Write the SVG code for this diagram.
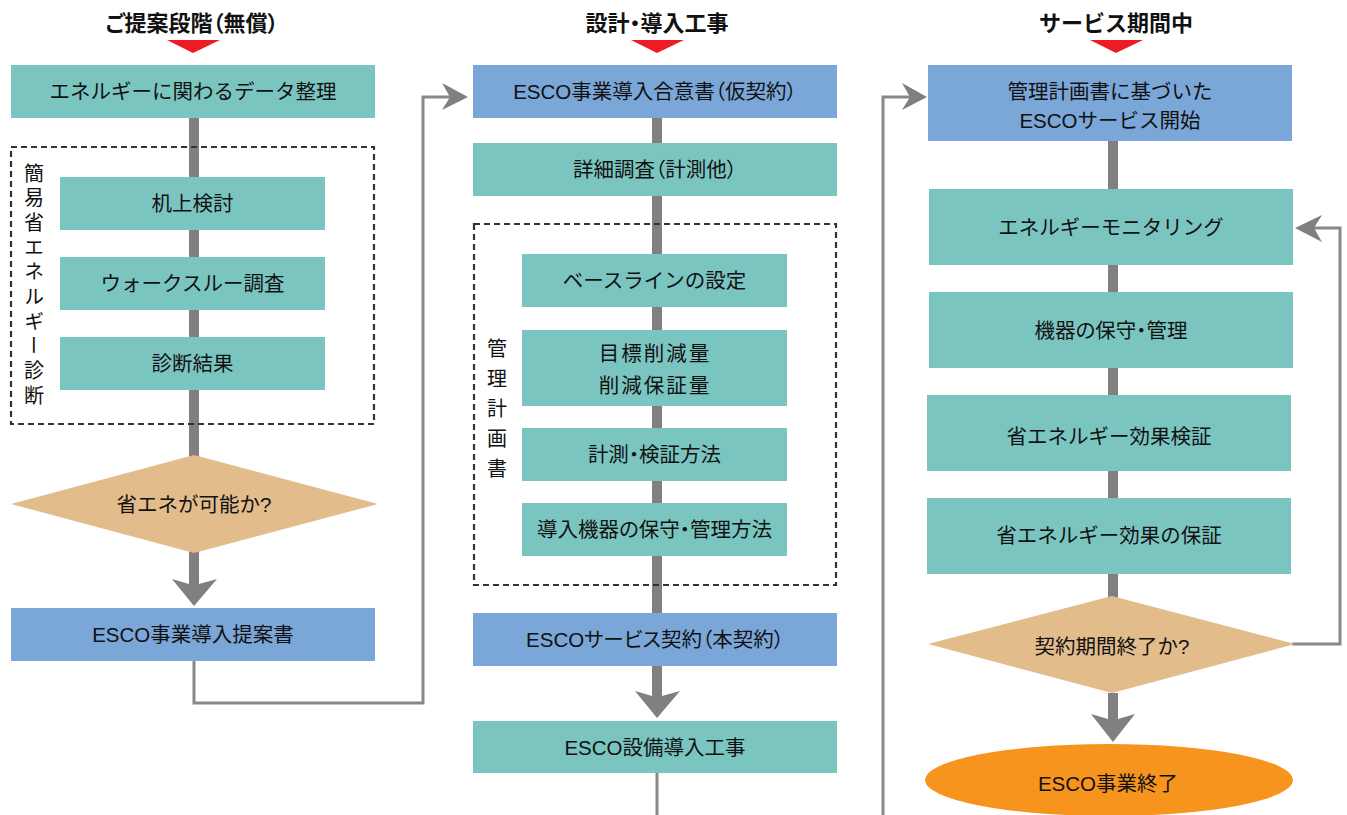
<svg xmlns="http://www.w3.org/2000/svg" width="1347" height="815" viewBox="0 0 1347 815">
<style>
text{font-family:"Liberation Sans","Noto Sans CJK JP",sans-serif;fill:#111;font-size:20.5px;text-anchor:middle;dominant-baseline:central}
.p{font-feature-settings:"palt" 1}
.hdr{font-weight:bold;font-size:22px}
.teal{fill:#7bc5c1}
.blue{fill:#7ba6d8}
.dia{fill:#e3bc8b}
.tri{fill:#ed1c24}
.thick{stroke:#808080;stroke-width:10;fill:none}
.thin{stroke:#888;stroke-width:3;fill:none}
.ah{fill:#808080}
.dash{fill:none;stroke:#333;stroke-width:2.2;stroke-dasharray:6 4}
.vert{writing-mode:vertical-rl;text-anchor:start;dominant-baseline:auto;font-family:"Noto Sans CJK JP",sans-serif;font-size:20px}
</style>
<g id="headers">
<text class="hdr p" x="192" y="23">ご提案段階（無償）</text>
<polygon class="tri" points="167,40 220,40 193,53"/>
<text class="hdr p" x="657" y="23">設計・導入工事</text>
<polygon class="tri" points="631,40 684,40 657,53"/>
<text class="hdr" x="1116" y="23">サービス期間中</text>
<polygon class="tri" points="1090,40 1143,40 1116,53"/>
</g>
<g id="connectors">
<line class="thick" x1="194" y1="118" x2="194" y2="586"/>
<polygon class="ah" points="172,579 189,584 199,584 217,579 194,606"/>
<polyline class="thin" points="194,661 194,703 423,703 423,97 452,97"/>
<polygon class="ah" points="442,83 468,97 442,110 450,97"/>
<line class="thick" x1="657" y1="118" x2="657" y2="613"/>
<line class="thick" x1="657" y1="666" x2="657" y2="698"/>
<polygon class="ah" points="635,691 652,696 662,696 680,691 657,718"/>
<line class="thin" x1="657" y1="773" x2="657" y2="815"/>
<polyline class="thin" points="883,815 883,97 910,97"/>
<polygon class="ah" points="902,83 927,97 902,110 910,97"/>
<line class="thick" x1="1113" y1="141" x2="1113" y2="600"/>
<line class="thick" x1="1113" y1="693" x2="1113" y2="720"/>
<polygon class="ah" points="1091,714 1108,719 1118,719 1135,714 1113,742"/>
<polyline class="thin" points="1292,644 1340,644 1340,228 1312,228"/>
<polygon class="ah" points="1322,215 1295,228 1322,242 1314,228"/>
</g>
<g id="col1-data">
<rect class="teal" x="11" y="65" width="364" height="53"/>
<text x="193" y="91.5">エネルギーに関わるデータ整理</text>
</g>
<g id="col1-group">
<rect class="dash" x="11" y="147" width="363" height="277"/>
<text class="vert" x="34" y="163" style="letter-spacing:4.7px">簡易省エネルギー診断</text>
</g>
<g id="col1-desk">
<rect class="teal" x="60" y="177" width="265" height="53"/>
<text x="192.5" y="203.5">机上検討</text>
</g>
<g id="col1-walk">
<rect class="teal" x="60" y="257" width="265" height="53"/>
<text x="192.5" y="283.5">ウォークスルー調査</text>
</g>
<g id="col1-result">
<rect class="teal" x="60" y="337" width="265" height="53"/>
<text x="192.5" y="363.5">診断結果</text>
</g>
<g id="col1-decision">
<polygon class="dia" points="11,504 194,455 378,504 194,553"/>
<text x="194" y="504">省エネが可能か?</text>
</g>
<g id="col1-proposal">
<rect class="blue" x="11" y="608" width="364" height="53"/>
<text x="193" y="634.5">ESCO事業導入提案書</text>
</g>
<g id="col2-agree">
<rect class="blue" x="473" y="65" width="364" height="53"/>
<text class="p" x="655" y="91.5">ESCO事業導入合意書（仮契約）</text>
</g>
<g id="col2-survey">
<rect class="teal" x="473" y="143" width="364" height="53"/>
<text class="p" x="655" y="169.5">詳細調査（計測他）</text>
</g>
<g id="col2-group">
<rect class="dash" x="474" y="224" width="362" height="361"/>
<text class="vert" x="497" y="338" style="letter-spacing:10px">管理計画書</text>
</g>
<g id="col2-baseline">
<rect class="teal" x="522" y="254" width="265" height="53"/>
<text x="654.5" y="280.5">ベースラインの設定</text>
</g>
<g id="col2-target">
<rect class="teal" x="522" y="330" width="265" height="76"/>
<text x="655" y="353" style="letter-spacing:2px">目標削減量</text>
<text x="655" y="385" style="letter-spacing:2px">削減保証量</text>
</g>
<g id="col2-measure">
<rect class="teal" x="522" y="428" width="265" height="53"/>
<text class="p" x="654.5" y="454.5">計測・検証方法</text>
</g>
<g id="col2-maint">
<rect class="teal" x="522" y="503" width="265" height="53"/>
<text class="p" x="654.5" y="529.5">導入機器の保守・管理方法</text>
</g>
<g id="col2-contract">
<rect class="blue" x="473" y="613" width="364" height="53"/>
<text class="p" x="655" y="639.5">ESCOサービス契約（本契約）</text>
</g>
<g id="col2-work">
<rect class="teal" x="473" y="721" width="364" height="52"/>
<text x="655" y="747">ESCO設備導入工事</text>
</g>
<g id="col3-start">
<rect class="blue" x="928" y="65" width="364" height="76"/>
<text x="1110" y="91">管理計画書に基づいた</text>
<text x="1110" y="120">ESCOサービス開始</text>
</g>
<g id="col3-monitor">
<rect class="teal" x="929" y="189" width="364" height="76"/>
<text x="1111" y="227">エネルギーモニタリング</text>
</g>
<g id="col3-maint">
<rect class="teal" x="929" y="292" width="364" height="76"/>
<text class="p" x="1111" y="330">機器の保守・管理</text>
</g>
<g id="col3-verify">
<rect class="teal" x="927" y="395" width="364" height="76"/>
<text x="1109" y="436">省エネルギー効果検証</text>
</g>
<g id="col3-guarantee">
<rect class="teal" x="927" y="498" width="364" height="76"/>
<text x="1109" y="535">省エネルギー効果の保証</text>
</g>
<g id="col3-decision">
<polygon class="dia" points="928,644 1112,596 1295,644 1112,693"/>
<text x="1112" y="646">契約期間終了か?</text>
</g>
<g id="col3-end">
<ellipse cx="1109" cy="780" rx="184" ry="36" fill="#f7941d"/>
<text x="1108" y="783">ESCO事業終了</text>
</g>
</svg>
